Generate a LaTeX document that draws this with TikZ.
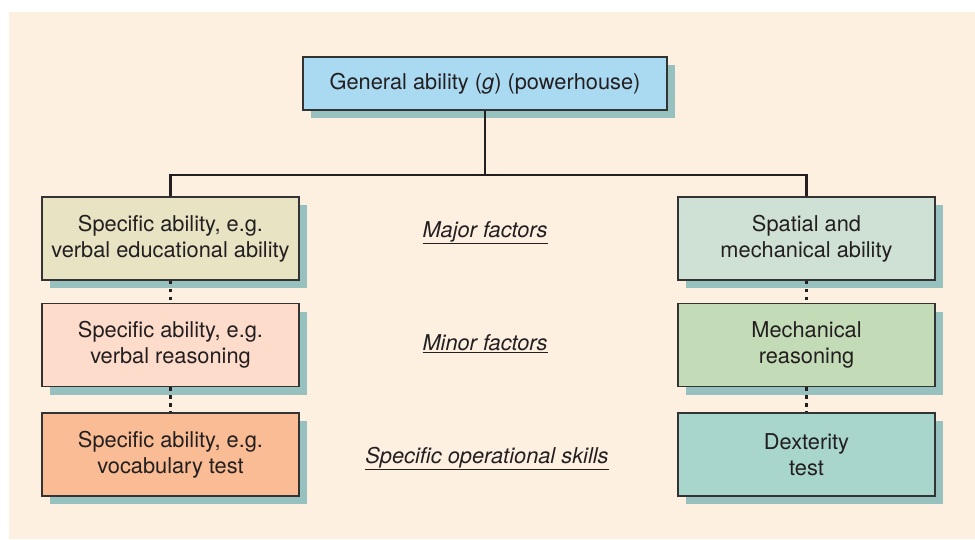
\documentclass[tikz,border=0pt]{standalone}
\usepackage{fontspec}
\setmainfont{TeX Gyre Heros}
\usetikzlibrary{shadows}
\definecolor{panel}{HTML}{FDF0E1}
\definecolor{ink}{HTML}{231F20}
\definecolor{boxline}{HTML}{333333}
\definecolor{shade}{HTML}{97C1BF}
\definecolor{gcol}{HTML}{AAD9F2}
\definecolor{vone}{HTML}{E7E3C3}
\definecolor{vtwo}{HTML}{FDDCCB}
\definecolor{vthree}{HTML}{F9BC94}
\definecolor{mone}{HTML}{CEE1D4}
\definecolor{mtwo}{HTML}{C4DBB7}
\definecolor{mthree}{HTML}{A8D5CC}
\begin{document}
\begin{tikzpicture}[x=1pt,y=-1pt,
  box/.style={draw=boxline, line width=1.3pt, minimum width=257pt, minimum height=83pt,
    align=center, inner sep=0pt, text=ink, font=\fontsize{21.8}{26}\selectfont,
    drop shadow={shadow xshift=8pt, shadow yshift=-8pt, fill=shade, opacity=1}},
  tree/.style={draw=ink, line width=2.4pt},
  dashline/.style={draw=ink, line width=2.6pt, dash pattern=on 3.5pt off 4.5pt},
  lab/.style={anchor=base, text=ink, font=\fontsize{21.8}{26}\selectfont\itshape}]
  \useasboundingbox (0,0) rectangle (975,539);
  \fill[panel] (9,12) rectangle (975,539);

  % apex of the hierarchy
  \node[box, fill=gcol, minimum width=364pt, minimum height=53pt] (g) at (485,83.5)
    {General ability (\textit{g}) (powerhouse)};

  % verbal-educational branch
  \node[box, fill=vone]   (v1) at (170.5,238.5) {Specific ability, e.g.\\verbal educational ability};
  \node[box, fill=vtwo]   (v2) at (170.5,345)   {Specific ability, e.g.\\verbal reasoning};
  \node[box, fill=vthree] (v3) at (170.5,454.5) {Specific ability, e.g.\\vocabulary test};

  % spatial-mechanical branch
  \node[box, fill=mone]   (m1) at (806.5,238.5) {Spatial and\\mechanical ability};
  \node[box, fill=mtwo]   (m2) at (806.5,345)   {Mechanical\\reasoning};
  \node[box, fill=mthree] (m3) at (806.5,454.5) {Dexterity\\test};

  % level labels
  \node[lab] (major) at (485,237) {\underline{Major factors}};
  \node[lab] (minor) at (485,350) {\underline{Minor factors}};
  \node[lab] (skills) at (487,463) {\underline{Specific operational skills}};

  % tree connectors
  \coordinate (bar) at (485,175);
  \draw[tree] (g.south) -- (bar);
  \draw[tree] (v1.north) |- (bar) -| (m1.north);

  % dashed links between levels
  \draw[dashline] (v1.south) -- (v2.north);
  \draw[dashline] (v2.south) -- (v3.north);
  \draw[dashline] (m1.south) -- (m2.north);
  \draw[dashline] (m2.south) -- (m3.north);
\end{tikzpicture}
\end{document}
